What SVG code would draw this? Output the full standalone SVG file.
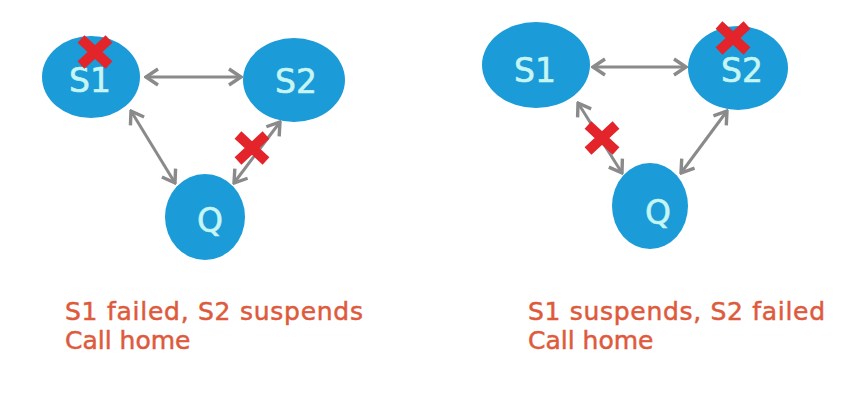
<svg xmlns="http://www.w3.org/2000/svg" width="865" height="403" viewBox="0 0 865 403">
<style>
.node{fill:#1b9bd7}
.lbl{font-family:"DejaVu Sans",Verdana,sans-serif;font-size:33px;fill:#c6f6f4;stroke:#c6f6f4;stroke-width:0.6;text-anchor:middle}
.cap{font-family:"DejaVu Sans",Verdana,sans-serif;font-size:25px;fill:#de5a3c;stroke:#de5a3c;stroke-width:0.5}
.edge{stroke:#8a8a8a;stroke-width:3;fill:none;marker-start:url(#ah);marker-end:url(#ah)}
.x{stroke:#e3242b;stroke-width:10;fill:none}
</style>
<defs>
<marker id="ah" viewBox="-14 -10 16 20" markerWidth="16" markerHeight="20" refX="0" refY="0" orient="auto-start-reverse" markerUnits="userSpaceOnUse">
<path d="M-12,-8 L0,0 L-12,8" stroke="#8a8a8a" stroke-width="3.4" fill="none"/>
</marker>
<g id="xmark"><path class="x" d="M-14,-13 L14,13 M14,-13 L-14,13"/></g>
</defs>
<rect width="865" height="403" fill="#ffffff"/>
<g id="connectors">
<line class="edge" x1="146" y1="77" x2="241" y2="77"/>
<line class="edge" x1="131" y1="111" x2="175" y2="183"/>
<line class="edge" x1="280" y1="122" x2="234" y2="183"/>
<line class="edge" x1="593" y1="67" x2="686" y2="67"/>
<line class="edge" x1="578" y1="103" x2="622" y2="173"/>
<line class="edge" x1="727" y1="111" x2="681" y2="173"/>
</g>
<g id="left-S1"><ellipse class="node" cx="91" cy="77" rx="49" ry="41"/><text class="lbl" x="90" y="92">S1</text></g>
<g id="left-S2"><ellipse class="node" cx="294" cy="80" rx="51" ry="42"/><text class="lbl" x="296" y="93">S2</text></g>
<g id="left-Q"><ellipse class="node" cx="205" cy="217" rx="40" ry="43"/><text class="lbl" x="210" y="232">Q</text></g>
<g id="right-S1"><ellipse class="node" cx="536" cy="65" rx="54" ry="43"/><text class="lbl" x="535" y="82">S1</text></g>
<g id="right-S2"><ellipse class="node" cx="738" cy="68" rx="50" ry="42"/><text class="lbl" x="742" y="82">S2</text></g>
<g id="right-Q"><ellipse class="node" cx="650" cy="206" rx="38" ry="43"/><text class="lbl" x="658" y="224">Q</text></g>
<g id="marks">
<use href="#xmark" x="95" y="52"/>
<use href="#xmark" x="252" y="148"/>
<use href="#xmark" x="733" y="38"/>
<use href="#xmark" x="602" y="138"/>
</g>
<g id="captions">
<text class="cap" x="65" y="320" textLength="298" lengthAdjust="spacing">S1 failed, S2 suspends</text>
<text class="cap" x="65" y="349">Call home</text>
<text class="cap" x="528" y="320" textLength="297" lengthAdjust="spacing">S1 suspends, S2 failed</text>
<text class="cap" x="528" y="349">Call home</text>
</g>
</svg>
